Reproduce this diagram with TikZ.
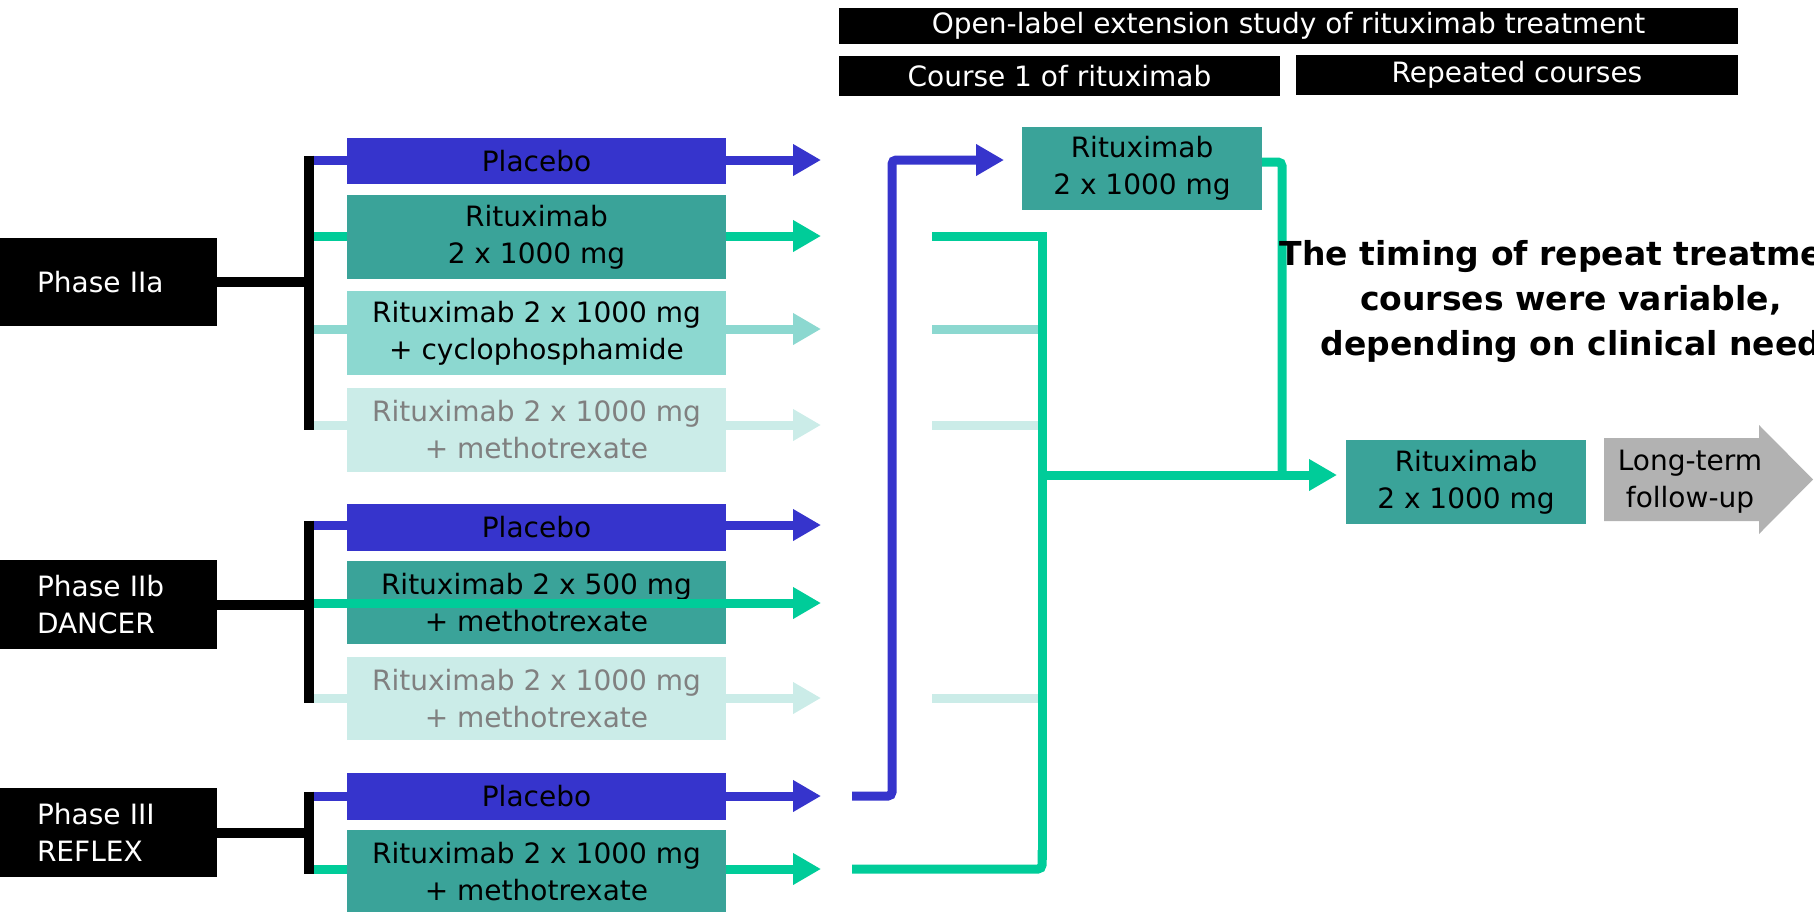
\documentclass[tikz,border=0pt]{standalone}
\usepackage{fontspec}
\setmainfont{DejaVu Sans}
\usetikzlibrary{arrows.meta}
\definecolor{blueC}{RGB}{54,52,204}
\definecolor{tealBox}{RGB}{58,163,153}
\definecolor{greenC}{RGB}{0,204,153}
\definecolor{lightTeal}{RGB}{140,216,208}
\definecolor{paleTeal}{RGB}{203,236,232}
\definecolor{grayT}{RGB}{128,128,128}
\definecolor{ltGray}{RGB}{178,178,178}
\begin{document}
\begin{tikzpicture}[x=0.5pt,y=-0.5pt,
  every node/.style={inner sep=0pt,outer sep=0pt},
  txt/.style={font=\fontsize{14pt}{18.5pt}\selectfont,align=center},
  trt/.style={txt,minimum width=189.5pt,fill=#1},
  blk/.style={txt,fill=black,text=white},
  phase/.style={blk,minimum width=108.5pt,minimum height=44pt,text width=71.5pt,align=left,inner xsep=18.5pt},
  row/.style={line width=4.5pt,draw=#1,-{Triangle[length=14pt,width=15pt]}},
  seg/.style={line width=4.5pt,draw=#1},
  brk/.style={line width=5pt,draw=black},
]
\useasboundingbox (0,0) rectangle (1814,911);
\clip (0,0) rectangle (1814,911);

% bracket points and arrow tips
\coordinate (ka1) at (309,160); \coordinate (ta1) at (821,160);
\coordinate (ka2) at (309,236); \coordinate (ta2) at (821,236);
\coordinate (ka3) at (309,329); \coordinate (ta3) at (821,329);
\coordinate (ka4) at (309,425); \coordinate (ta4) at (821,425);
\coordinate (kb1) at (309,525); \coordinate (tb1) at (821,525);
\coordinate (kb2) at (309,603); \coordinate (tb2) at (821,603);
\coordinate (kb3) at (309,698); \coordinate (tb3) at (821,698);
\coordinate (kc1) at (309,796); \coordinate (tc1) at (821,796);
\coordinate (kc2) at (309,869); \coordinate (tc2) at (821,869);

% row arrows (under boxes)
\draw[row=blueC] (ka1) -- (ta1);
\draw[row=greenC] (ka2) -- (ta2);
\draw[row=lightTeal] (ka3) -- (ta3);
\draw[row=paleTeal] (ka4) -- (ta4);
\draw[row=blueC] (kb1) -- (tb1);
\draw[row=paleTeal] (kb3) -- (tb3);
\draw[row=blueC] (kc1) -- (tc1);
\draw[row=greenC] (kc2) -- (tc2);

% phase boxes
\node[phase] (p2a) at (108.5,282) {Phase IIa};
\node[phase,minimum height=44.5pt] (p2b) at (108.5,604.5) {Phase IIb\\DANCER};
\node[phase,minimum height=44.5pt] (p3) at (108.5,832.5) {Phase III\\REFLEX};

% brackets
\draw[brk] ([yshift=2.25pt]ka1) -- ([yshift=-2.25pt]ka4);
\draw[brk] ([yshift=2.25pt]kb1) -- ([yshift=-2.25pt]kb3);
\draw[brk] ([yshift=2.25pt]kc1) -- ([yshift=-2.25pt]kc2);
\draw[brk] (p2a.east) -- (p2a.east -| ka1);
\draw[brk] (p2b.east) -- (p2b.east -| kb1);
\draw[brk] (p3.east) -- (p3.east -| kc1);

% treatment boxes
\node[trt=blueC,minimum height=23pt] (a1) at (536.5,161) {Placebo};
\node[trt=tealBox,minimum height=42pt] (a2) at (536.5,237) {Rituximab\\2 x 1000 mg};
\node[trt=lightTeal,minimum height=42pt] (a3) at (536.5,333) {Rituximab 2 x 1000 mg\\+ cyclophosphamide};
\node[trt=paleTeal,minimum height=42pt,text=grayT] (a4) at (536.5,430) {Rituximab 2 x 1000 mg\\+ methotrexate};
\node[trt=blueC,minimum height=23.5pt] (b1) at (536.5,527.5) {Placebo};
\node[trt=tealBox,minimum height=41.5pt] (b2) at (536.5,602.5) {Rituximab 2 x 500 mg\\+ methotrexate};
\node[trt=paleTeal,minimum height=41.5pt,text=grayT] (b3) at (536.5,698.5) {Rituximab 2 x 1000 mg\\+ methotrexate};
\node[trt=blueC,minimum height=23.5pt] (c1) at (536.5,796.5) {Placebo};
\node[trt=tealBox,minimum height=42pt] (c2) at (536.5,872) {Rituximab 2 x 1000 mg\\+ methotrexate};

% DANCER arrow drawn over its box
\draw[row=greenC] ([xshift=2.5pt]kb2) -- (tb2);

% headers
\node[blk,minimum width=449.5pt,minimum height=18pt] (hdr) at (1288.5,26) {Open-label extension study of rituximab treatment};
\node[blk,minimum width=220.5pt,minimum height=20pt] (course1) at (1059.5,76) {Course 1 of rituximab};
\node[blk,minimum width=221pt,minimum height=20pt] (rep) at (1517,75) {Repeated courses};

% right-hand boxes
\node[txt,fill=tealBox,minimum width=120pt,minimum height=41.5pt] (rt) at (1142,168.5) {Rituximab\\2 x 1000 mg};
\node[txt,fill=tealBox,minimum width=120pt,minimum height=42pt] (rb) at (1466,482) {Rituximab\\2 x 1000 mg};

% faded stubs
\draw[seg=lightTeal] (932,329) -- (1040,329);
\draw[seg=paleTeal] (932,425) -- (1040,425);
\draw[seg=paleTeal] (932,698) -- (1040,698);

% course-1 connectors
\coordinate (bs) at (852,796);
\coordinate (bt) at (1004,160);
\draw[row=blueC,rounded corners=2pt] (bs) -- (892,796) -- (892,160) -- (bt);
\coordinate (gs) at (932,236);
\coordinate (ge) at (852,869);
\draw[seg=greenC] (gs) -- (1042,236) -- (1042,860);
\draw[seg=greenC,rounded corners=2pt] (1042,850) -- (1042,869) -- (ge);
\coordinate (gj) at (1042,475);
\coordinate (gt) at (1337,475);
\draw[row=greenC] (gj) -- (gt);
\draw[seg=greenC,rounded corners=2pt] ([yshift=3.25pt]rt.east) -- (1282,162) -- (1282,475);

% long-term follow-up arrow
\fill[ltGray] (1604,438) -- (1759,438) -- (1759,425) -- (1813,479.5) -- (1759,534) -- (1759,521) -- (1604,521) -- cycle;
\node[txt] (lt) at (1690,482) {Long-term\\follow-up};

% note (cut off at the right edge, as in the reference)
\node[font=\fontsize{16.5pt}{22.5pt}\selectfont\bfseries,align=center] (note) at (1571,302) {The timing of repeat treatment\\courses were variable,\\depending on clinical need};
\end{tikzpicture}
\end{document}
